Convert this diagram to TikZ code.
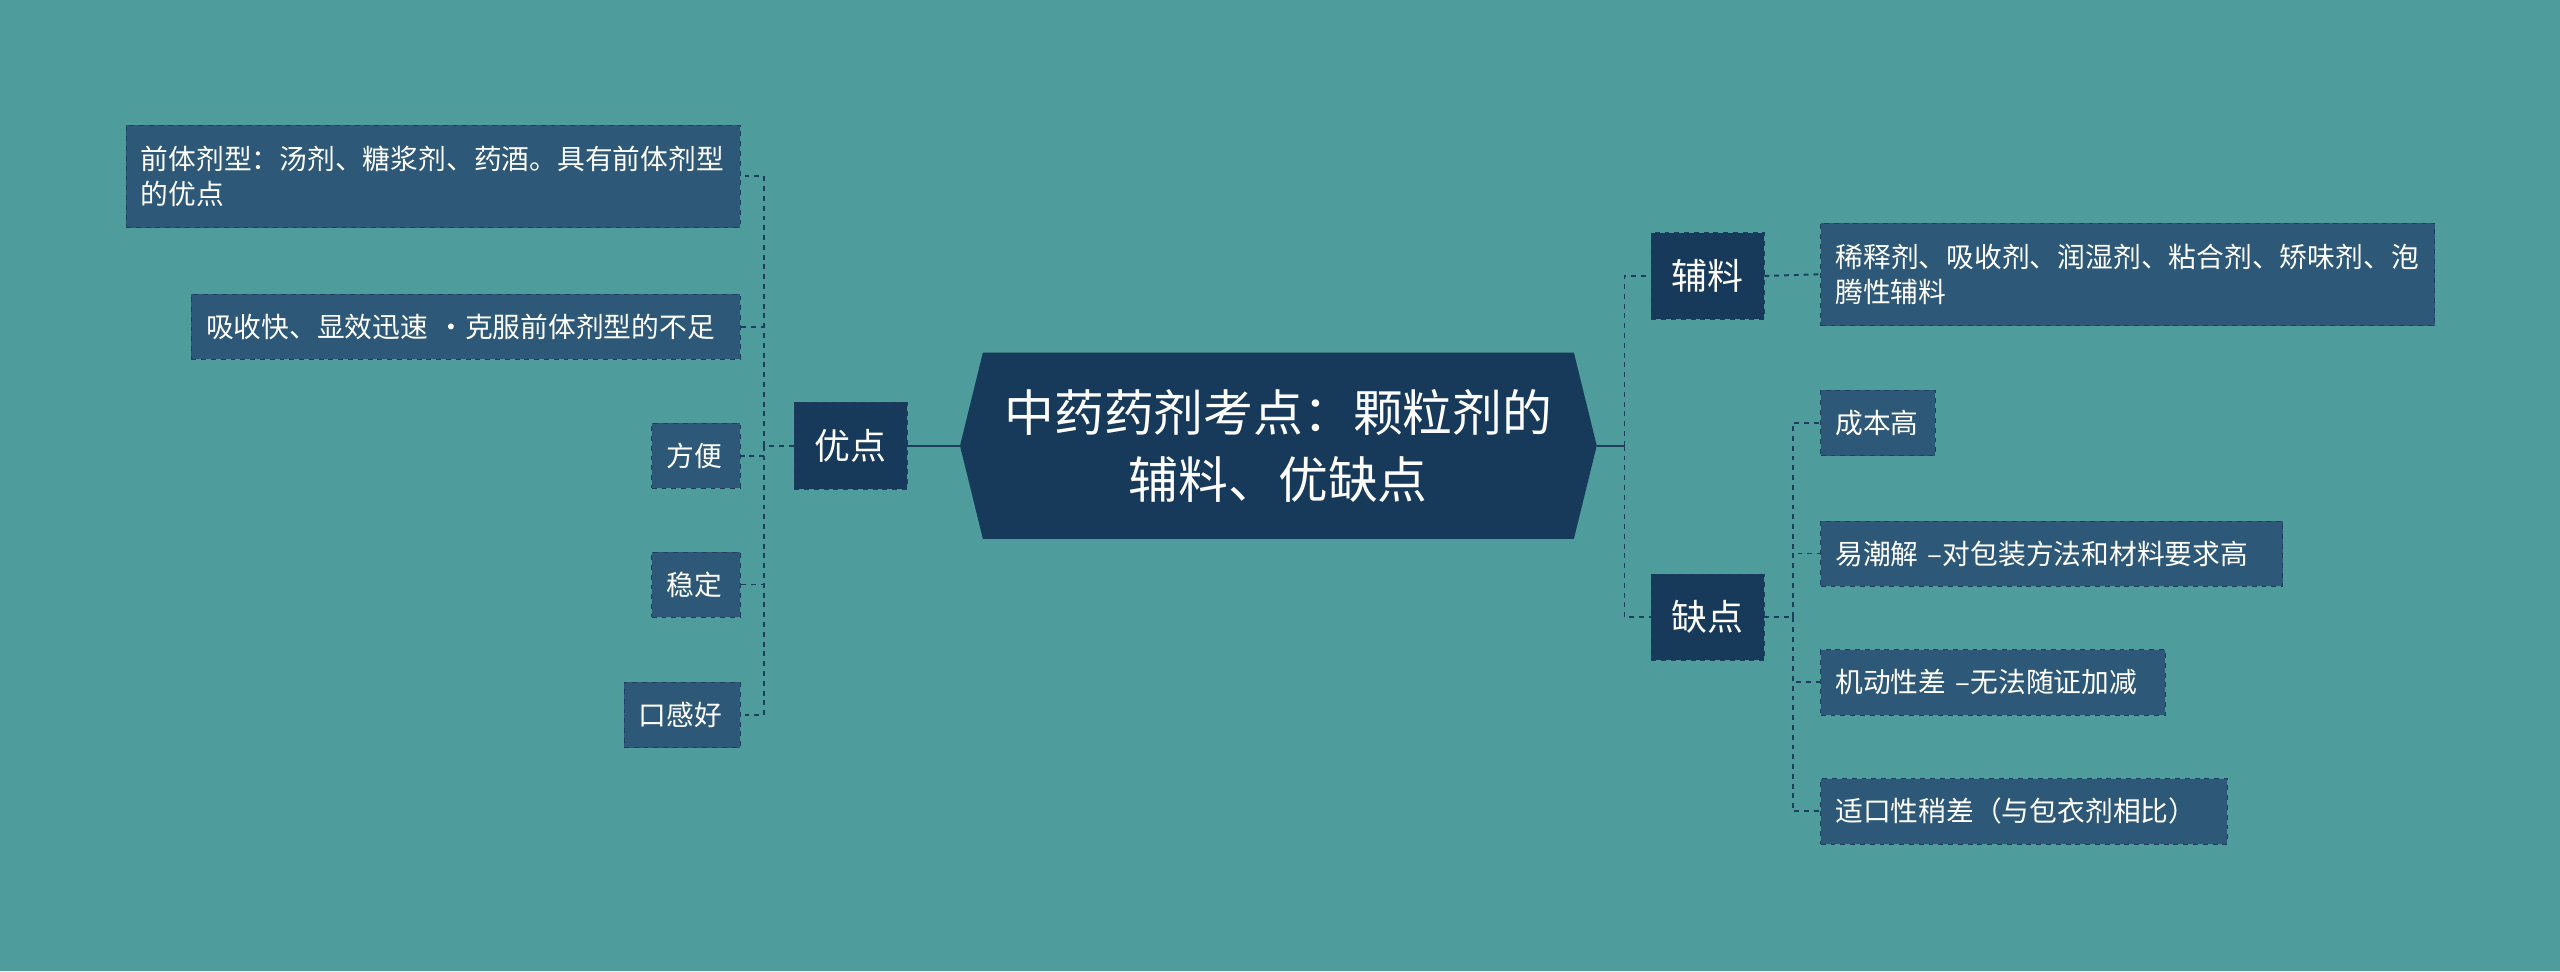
\documentclass[tikz,border=0pt]{standalone}
\usepackage{fontspec}
\setmainfont{Noto Sans CJK SC}
\XeTeXlinebreaklocale "zh"
\XeTeXlinebreakskip=0pt plus 1pt
\definecolor{bg}{HTML}{4E9C9C}
\definecolor{dk}{HTML}{173A5A}
\definecolor{lf}{HTML}{2E5877}
\definecolor{ln}{HTML}{1E3F5C}
\tikzset{
 leaf/.style={draw=ln, dashed, fill=lf, text=white, font=\fontsize{17}{21}\selectfont, inner xsep=9pt, inner ysep=0pt, align=left, anchor=west, rectangle},
 mid/.style={draw=ln, dashed, fill=dk, text=white, font=\fontsize{22}{25}\selectfont, minimum width=69pt, minimum height=53pt, inner sep=0pt},
 con/.style={draw=ln, dashed, line width=1.2pt},
}
\newcommand{\leafnode}[6]{\node[leaf, minimum height=#5pt, text width=\the\numexpr #3-#2-18\relax pt] (#1) at (#2pt,-#4pt) {#6};}
\begin{document}
\begin{tikzpicture}[x=1pt,y=1pt]
\fill[bg] (0,0) rectangle (1568,-595);
\useasboundingbox (0,0) rectangle (1568,-595);
% root
\fill[dk] (588,-273) -- (602,-216) -- (964,-216) -- (978,-273) -- (964,-330) -- (602,-330) -- cycle;
\node[text=white, font=\fontsize{30.5}{41}\selectfont, align=center] (root) at (783,-273) {中药药剂考点：颗粒剂的\\辅料、优缺点};
\coordinate (rl) at (588,-273);
\coordinate (rr) at (978,-273);
% left
\node[mid] (yd) at (521,-273) {优点};
\leafnode{l1}{77}{453}{108}{63}{前体剂型：汤剂、糖浆剂、药酒。具有前体剂型的优点}
\leafnode{l2}{117}{453}{200}{40}{吸收快、显效迅速 •克服前体剂型的不足}
\leafnode{l3}{399}{453}{279}{40}{方便}
\leafnode{l4}{399}{453}{358}{40}{稳定}
\leafnode{l5}{382}{453}{438}{40}{口感好}
\draw[ln, line width=1.5pt] (yd.east) -- (rl);
\coordinate (lx) at (468,-273);
\draw[con] (yd.west) -- (lx);
\foreach \n in {l1,l2,l3,l4,l5}{\draw[con] (lx) |- (\n.east);}
% right
\node[mid] (fl) at (1046,-169) {辅料};
\node[mid] (qd) at (1046,-378) {缺点};
\coordinate (rx) at (995,-273);
\draw[ln, line width=1.5pt] (rr) -- (rx);
\draw[con] (rx) |- (fl.west);
\draw[con] (rx) |- (qd.west);
\leafnode{r1}{1115}{1491}{168}{63}{稀释剂、吸收剂、润湿剂、粘合剂、矫味剂、泡腾性辅料}
\draw[con] (fl.east) -- (r1.west);
\leafnode{q1}{1115}{1185}{259}{40}{成本高}
\leafnode{q2}{1115}{1398}{339}{40}{易潮解 –对包装方法和材料要求高}
\leafnode{q3}{1115}{1326}{418}{40}{机动性差 –无法随证加减}
\leafnode{q4}{1115}{1364}{497}{40}{适口性稍差（与包衣剂相比）}
\coordinate (qx) at (1098,-378);
\draw[con] (qd.east) -- (qx);
\foreach \n in {q1,q2,q3,q4}{\draw[con] (qx) |- (\n.west);}
\end{tikzpicture}
\end{document}
